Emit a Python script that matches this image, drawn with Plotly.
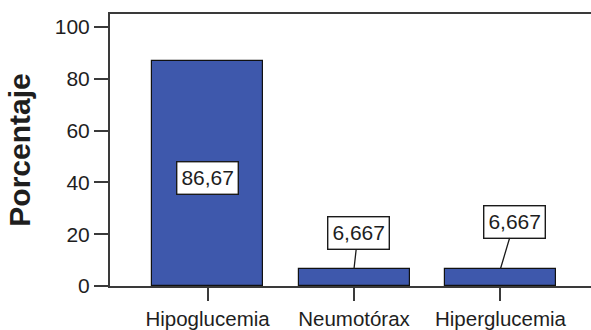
import plotly.graph_objects as go

categories = ["Hipoglucemia", "Neumotórax", "Hiperglucemia"]
porcentajes = [86.67, 6.667, 6.667]
etiquetas = ["86,67", "6,667", "6,667"]
y_ticks = [0, 20, 40, 60, 80, 100]

FONT = "Liberation Sans, Arial, sans-serif"
LINE = "#3a3a3a"
BAR = "#3e58ac"
TEXT = "#1e1e1e"

fig = go.Figure()
fig.add_trace(go.Bar(
    x=list(range(len(categories))),
    y=porcentajes,
    width=0.758,
    marker=dict(color=BAR, line=dict(color="#111111", width=1.2)),
    hoverinfo="skip",
))

# value labels: tall bar gets its label inside, short bars get a leader line
label_offsets = [None, (4, -36), (14, -47)]
for i, (val, txt) in enumerate(zip(porcentajes, etiquetas)):
    common = dict(
        text=txt,
        font=dict(family=FONT, size=21, color=TEXT),
        bgcolor="white",
        bordercolor="#1a1a1a",
        borderwidth=1.4,
        borderpad=4,
        xref="x", yref="y",
    )
    if label_offsets[i] is None:
        fig.add_annotation(x=i, y=val / 2, yshift=-4, showarrow=False, **common)
    else:
        ax, ay = label_offsets[i]
        fig.add_annotation(
            x=i, y=val, ax=ax, ay=ay, showarrow=True,
            arrowhead=0, arrowwidth=1.3, arrowcolor="#1a1a1a",
            standoff=0, startstandoff=0, **common,
        )

fig.update_layout(
    width=591, height=330,
    margin=dict(l=110, r=0, t=14, b=36),
    paper_bgcolor="white", plot_bgcolor="white",
    showlegend=False,
    bargap=0,
)
fig.update_xaxes(
    range=[-0.666, 2.618],
    tickmode="array",
    tickvals=list(range(len(categories))),
    ticktext=categories,
    ticks="outside", ticklen=13, tickwidth=2, tickcolor=LINE,
    showline=True, linewidth=2, linecolor=LINE, mirror=True,
    showgrid=False, zeroline=False,
    tickfont=dict(family=FONT, size=20.5, color=TEXT),
)
fig.update_yaxes(
    range=[0, 105],
    tickmode="array",
    tickvals=y_ticks,
    ticks="outside", ticklen=14, tickwidth=2, tickcolor=LINE,
    showline=True, linewidth=2, linecolor=LINE,
    showgrid=False, zeroline=False,
    tickfont=dict(family=FONT, size=21, color=TEXT),
    title=dict(text="<b>Porcentaje</b>", standoff=15,
               font=dict(family=FONT, size=30, color=TEXT)),
)

fig.write_html("out.html")
